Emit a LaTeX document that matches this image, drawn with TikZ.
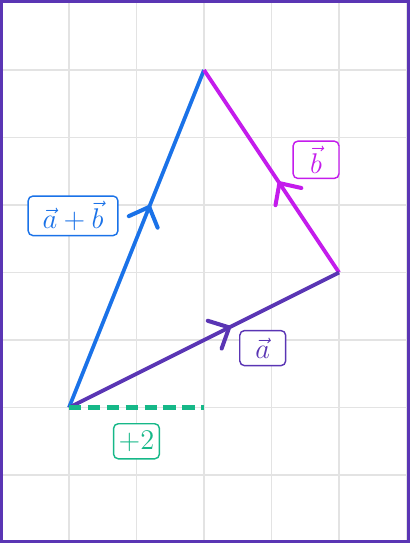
\documentclass[tikz,border=0pt]{standalone}
\usetikzlibrary{arrows.meta,decorations.markings}
\definecolor{vecA}{HTML}{5A35B4}
\definecolor{vecB}{HTML}{C41CEC}
\definecolor{vecS}{HTML}{1A72E8}
\definecolor{shiftc}{HTML}{16B888}
\definecolor{gridc}{HTML}{E3E3E3}
\tikzset{
  vec/.style={line width=1.6pt, postaction={decorate}},
  tip/.style={decoration={markings, mark=at position #1 with
      {\arrow{Straight Barb[length=2.4mm,width=4.6mm,line width=1.7pt,round]}}}},
  lbl/.style={draw, fill=white, rounded corners=2pt, line width=0.6pt,
      minimum width=0.68cm, minimum height=0.52cm, inner sep=2pt, font=\large}
}

\begin{document}
\begin{tikzpicture}
  \useasboundingbox (-0.022,-0.007) rectangle (6.052,8.037);
  \draw[gridc, line width=0.6pt] (0,0) grid (6,8);

  \coordinate (O) at (1,2);
  \coordinate (A) at (5,4);
  \coordinate (B) at (3,7);
  \coordinate (S) at (3,2);

  \node[lbl, draw=vecS, text=vecS, minimum width=1.33cm] at (1.06,4.84) (sum_lbl) {$\vec{a}+\vec{b}$};
  \node[lbl, draw=vecB, text=vecB] at (4.66,5.67) (b_lbl) {$\vec{b}$};
  \node[lbl, draw=vecA, text=vecA] at (3.87,2.88) (a_lbl) {$\vec{a}$};
  \node[lbl, draw=shiftc, text=shiftc] at (2,1.5) (shift_lbl) {$+2$};

  \path[draw, vec, tip=0.6, vecS] (O) -- (B);
  \path[draw, vec, tip=0.45, vecB] (A) -- (B);
  \path[draw, vec, tip=0.6, vecA] (O) -- (A);
  \path[draw, shiftc, line width=1.9pt, dash pattern=on 0.18cm off 0.1cm] (O) -- (S);

  \draw[vecA, line width=0.05cm] (0.003,0.018) rectangle (6.027,8.012);
\end{tikzpicture}
\end{document}
